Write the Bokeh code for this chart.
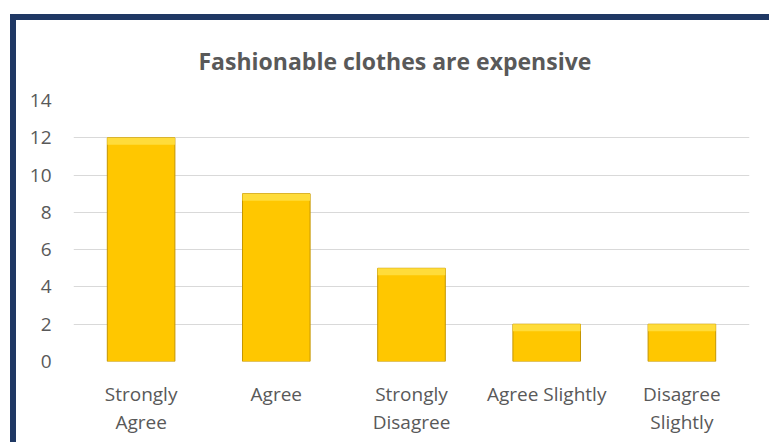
from bokeh.plotting import figure
from bokeh.models import FixedTicker, Range1d, FactorRange, ColumnDataSource
from bokeh.embed import file_html
from bokeh.resources import INLINE

categories = ["Strongly\nAgree", "Agree", "Strongly\nDisagree", "Agree Slightly", "Disagree\nSlightly"]
counts = [12, 9, 5, 2, 2]
y_ticks = [0, 2, 4, 6, 8, 10, 12, 14]
title_text = "Fashionable clothes are expensive"

src = ColumnDataSource(dict(cat=categories, val=counts,
                            bev=[v - 0.38 for v in counts]))

p = figure(x_range=FactorRange(factors=categories), y_range=Range1d(0, 14),
           width=759, height=428, output_backend="svg", toolbar_location=None,
           title=title_text,
           min_border_left=63, min_border_right=20, min_border_top=86, min_border_bottom=81)
p.margin = (14, 0, 0, 10)
p.styles = {"background": "white", "box-shadow": "inset 6px 6px 0 0 #1F3864"}
p.background_fill_color = "white"
p.border_fill_alpha = 0
p.outline_line_color = None

p.title.text_font = "Open Sans"
p.title.text_font_size = "23px"
p.title.text_font_style = "bold"
p.title.text_color = "#595959"
p.title.align = "left"
p.title.offset = 125
p.title.vertical_align = "top"
p.title.standoff = 44

p.vbar(x="cat", top="val", width=0.5, source=src,
       fill_color="#FFC700", line_color="#C49500", line_width=1)
p.vbar(x="cat", top="val", bottom="bev", width=0.5, source=src,
       fill_color="#FFDC3A", line_color=None)

p.xgrid.grid_line_color = None
p.ygrid.grid_line_color = "#D9D9D9"
p.ygrid.grid_line_width = 1

p.yaxis.ticker = FixedTicker(ticks=y_ticks)
p.yaxis.axis_line_color = None
p.yaxis.major_tick_line_color = None
p.yaxis.minor_tick_line_color = None
p.yaxis.major_label_text_font = "Open Sans"
p.yaxis.major_label_text_font_size = "19px"
p.yaxis.major_label_text_color = "#595959"
p.yaxis.major_label_standoff = 16

p.xaxis.axis_line_color = None
p.xaxis.major_tick_line_color = None
p.xaxis.minor_tick_line_color = None
p.xaxis.major_label_text_font = "Open Sans"
p.xaxis.major_label_text_font_size = "19px"
p.xaxis.major_label_text_color = "#595959"
p.xaxis.major_label_text_line_height = 1.08
p.xaxis.major_label_standoff = 13

open("out.html", "w").write(file_html(p, INLINE))
